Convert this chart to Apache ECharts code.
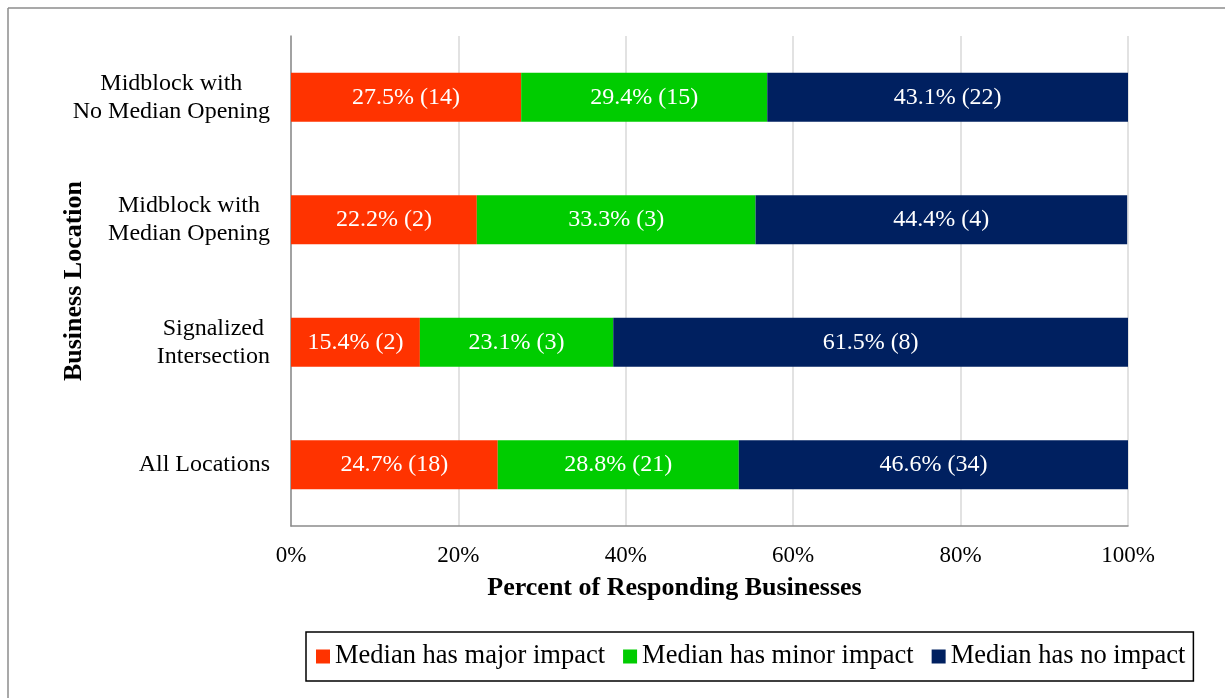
<!DOCTYPE html>
<html>
<head>
<meta charset="utf-8">
<script src="https://cdn.jsdelivr.net/npm/echarts@6/dist/echarts.min.js"></script>
<style>
  html, body { margin: 0; padding: 0; background: #fff; }
  #chart { width: 1225px; height: 698px; }
</style>
</head>
<body>
<div id="chart"></div>
<script>
// 数据
var categories = ['All Locations', 'Signalized\nIntersection', 'Midblock with\nMedian Opening', 'Midblock with\nNo Median Opening'];
var majorPct = [24.7, 15.4, 22.2, 27.5];
var minorPct = [28.8, 23.1, 33.3, 29.4];
var noPct = [46.6, 61.5, 44.4, 43.1];
var majorCount = [18, 2, 2, 14];
var minorCount = [21, 3, 3, 15];
var noCount = [34, 8, 4, 22];
var seriesNames = ['Median has major impact', 'Median has minor impact', 'Median has no impact'];

var FONT = "'Liberation Serif', 'Times New Roman', serif";
var myChart = echarts.init(document.getElementById('chart'));

//数据标签: 百分比 (数量)
function labelFor(counts) {
  return function (p) {
    return p.value.toFixed(1) + '% (' + counts[p.dataIndex] + ')';
  };
}

function barSeries(name, values, counts, color) {
  return {
    name: name,
    type: 'bar',
    stack: 'total',
    barWidth: '40%',
    data: values,
    itemStyle: { color: color },
    label: {
      show: true,
      position: 'inside',
      color: '#fff',
      fontFamily: FONT,
      fontSize: 24,
      formatter: labelFor(counts)
    }
  };
}

var option = {
  animation: false,
  textStyle: { fontFamily: FONT },
  grid: { left: 291, right: 97, top: 36, bottom: 172 },
  legend: {
    data: seriesNames,
    left: 306,
    top: 632,
    orient: 'horizontal',
    icon: 'rect',
    itemWidth: 14,
    itemHeight: 14,
    itemGap: 18,
    padding: [11, 8, 11, 10],
    borderColor: '#000',
    borderWidth: 1.5,
    textStyle: { fontFamily: FONT, fontSize: 26.5, color: '#000' }
  },
  xAxis: {
    type: 'value',
    min: 0,
    max: 100,
    interval: 20,
    name: 'Percent of Responding Businesses',
    nameLocation: 'middle',
    nameGap: 49,
    nameMoveOverlap: false,
    nameTextStyle: { fontFamily: FONT, fontSize: 26, fontWeight: 'bold', color: '#000', padding: [0, 70, 0, 0] },
    axisLine: { show: true, lineStyle: { color: '#8c8c8c', width: 1.5 } },
    axisTick: { show: false },
    splitLine: { show: true, lineStyle: { color: '#d9d9d9', width: 1.5 } },
    axisLabel: {
      formatter: '{value}%',
      margin: 18,
      fontFamily: FONT,
      fontSize: 23,
      color: '#000'
    }
  },
  yAxis: {
    type: 'category',
    data: categories,
    name: 'Business Location',
    nameLocation: 'middle',
    nameGap: 204,
    nameMoveOverlap: false,
    nameTextStyle: { fontFamily: FONT, fontSize: 26, fontWeight: 'bold', color: '#000' },
    axisLine: { show: true, lineStyle: { color: '#8c8c8c', width: 1.5 } },
    axisTick: { show: false },
    axisLabel: {
      margin: 21,
      color: '#000',
      fontFamily: FONT,
      fontSize: 24,
      formatter: function (v) {
        return v.split('\n').map(function (s) { return '{c|' + s + '}'; }).join('\n');
      },
      rich: {
        c: { align: 'center', fontFamily: FONT, fontSize: 24, color: '#000', lineHeight: 28 }
      }
    }
  },
  graphic: [
    { type: 'line', shape: { x1: 8, y1: 8, x2: 1225, y2: 8 }, style: { stroke: '#8c8c8c', lineWidth: 1.5 } },
    { type: 'line', shape: { x1: 8, y1: 8, x2: 8, y2: 698 }, style: { stroke: '#8c8c8c', lineWidth: 1.5 } }
  ],
  series: [
    barSeries(seriesNames[0], majorPct, majorCount, '#ff3300'),
    barSeries(seriesNames[1], minorPct, minorCount, '#00cc00'),
    barSeries(seriesNames[2], noPct, noCount, '#002060')
  ]
};
myChart.setOption(option);
</script>
</body>
</html>
